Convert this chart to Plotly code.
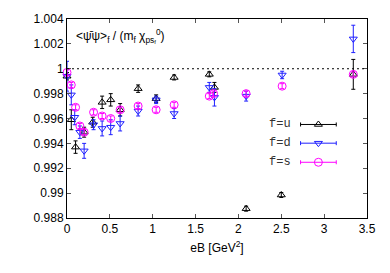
import plotly.graph_objects as go

# ---- data ----
x_u = [0.0, 0.05, 0.1, 0.2, 0.3, 0.41, 0.51, 0.62, 0.83, 1.04, 1.25, 1.66, 1.72, 2.09, 2.5, 3.34]
y_u = [0.9994, 0.9959, 0.9937, 0.9949, 0.9957, 0.9973, 0.9975, 0.9967, 0.9984, 0.9976, 0.9993, 0.99955, 0.9985, 0.98875, 0.98985, 0.99955]
e_u = [0.0003, 0.0008, 0.0005, 0.0004, 0.0004, 0.0005, 0.0005, 0.0005, 0.0003, 0.0003, 0.0002, 0.0002, 0.0004, 0.0002, 0.0002, 0.0012]

x_d = [0.0, 0.05, 0.09, 0.15, 0.2, 0.31, 0.41, 0.51, 0.62, 0.83, 1.04, 1.25, 1.66, 1.72, 2.09, 2.51, 3.34]
y_d = [0.9994, 0.9979, 0.9961, 0.9949, 0.9934, 0.9955, 0.9952, 0.9953, 0.9956, 0.9966, 0.9975, 0.9964, 0.9985, 0.9977, 0.9978, 0.9995, 1.0024]
e_d = [0.0012, 0.0008, 0.0006, 0.0005, 0.0006, 0.0004, 0.0006, 0.0006, 0.0006, 0.0004, 0.0003, 0.0004, 0.0004, 0.0007, 0.0004, 0.0003, 0.0011]

x_s = [0.0, 0.05, 0.1, 0.15, 0.2, 0.31, 0.41, 0.51, 0.62, 0.83, 1.04, 1.25, 1.66, 1.71, 2.09, 2.51, 3.34]
y_s = [0.9997, 0.9987, 0.9969, 0.9954, 0.9949, 0.9965, 0.9962, 0.9960, 0.9967, 0.9970, 0.9967, 0.9971, 0.9978, 0.9980, 0.9980, 0.9986, 0.99955]
e_s = [0.0002, 0.0002, 0.0002, 0.0002, 0.0002, 0.0002, 0.0002, 0.0002, 0.0002, 0.0002, 0.0002, 0.0002, 0.0002, 0.0002, 0.0002, 0.0002, 0.0002]

series_names = ["f=u", "f=d", "f=s"]
x_ticks = [0, 0.5, 1, 1.5, 2, 2.5, 3, 3.5]
x_ticktext = ["0", "0.5", "1", "1.5", "2", "2.5", "3", "3.5"]
y_ticks = [0.988, 0.990, 0.992, 0.994, 0.996, 0.998, 1.000, 1.002, 1.004]
y_ticktext = ["0.988", "0.99", "0.992", "0.994", "0.996", "0.998", "1", "1.002", "1.004"]

colors = ["#000000", "#1f1fff", "#ff00ff"]
symbols = ["triangle-up-open", "triangle-down-open", "circle-open"]
sizes = [7, 7, 8]

fig = go.Figure()
for xs, ys, es, c, sym, sz, nm in zip([x_u, x_d, x_s], [y_u, y_d, y_s], [e_u, e_d, e_s],
                                      colors, symbols, sizes, series_names):
    fig.add_trace(go.Scatter(
        x=xs, y=ys, mode="markers", name=nm, showlegend=False, cliponaxis=False,
        marker=dict(symbol=sym, size=sz, color=c, line=dict(width=1, color=c)),
        error_y=dict(type="data", array=es, visible=True, color=c, thickness=1, width=2),
    ))

# gnuplot-style legend samples on an overlay axis (fractions of the plot area)
leg_y = [0.47, 0.376, 0.28]
for c, sym, sz, ly, nm in zip(colors, symbols, sizes, leg_y, series_names):
    fig.add_trace(go.Scatter(
        x=[0.838], y=[ly], xaxis="x2", yaxis="y2", mode="markers", showlegend=False,
        cliponaxis=False,
        marker=dict(symbol=sym, size=sz, color=c, line=dict(width=1, color=c)),
        error_x=dict(type="data", array=[0.0595], visible=True, color=c, thickness=1, width=2),
    ))
    fig.add_annotation(x=0.753, y=ly, xref="paper", yref="paper", text=nm, showarrow=False,
                       xanchor="right", yanchor="middle",
                       font=dict(family="Liberation Mono", size=12, color="#333333"))

fig.add_shape(type="line", x0=0, x1=3.5, y0=1, y1=1, xref="x", yref="y",
              line=dict(color="black", width=1, dash="2px,3px"))

fig.add_annotation(x=0.024, y=0.915, xref="paper", yref="paper",
                   text="&lt;ψ̄ψ&gt;<sub>f</sub> / (m<sub>f</sub> χ<sub>ps<sub>f</sub></sub><sup>0</sup>)",
                   showarrow=False, xanchor="left", yanchor="middle",
                   font=dict(family="Liberation Sans", size=12, color="black"))

axis_common = dict(showline=True, linecolor="black", linewidth=1, mirror="allticks",
                   ticks="inside", ticklen=4, tickcolor="#555555", showgrid=False,
                   zeroline=False, tickfont=dict(family="Liberation Sans", size=12, color="black"))

fig.update_layout(
    width=390, height=273,
    margin=dict(l=66.7, r=23.3, t=12.5, b=54.5),
    paper_bgcolor="white", plot_bgcolor="white",
    xaxis=dict(range=[0, 3.5], tickvals=x_ticks, ticktext=x_ticktext,
               title=dict(text="eB [GeV<sup>2</sup>]", standoff=8,
                          font=dict(family="Liberation Sans", size=12, color="black")),
               **axis_common),
    yaxis=dict(range=[0.988, 1.004], tickvals=y_ticks, ticktext=y_ticktext, **axis_common),
    xaxis2=dict(range=[0, 1], overlaying="x", visible=False, domain=[0, 1]),
    yaxis2=dict(range=[0, 1], overlaying="y", visible=False, domain=[0, 1]),
    showlegend=False,
)

fig.write_html("out.html", config={"displayModeBar": False},
               post_script="document.body.style.margin='0';document.body.style.overflow='hidden';")
